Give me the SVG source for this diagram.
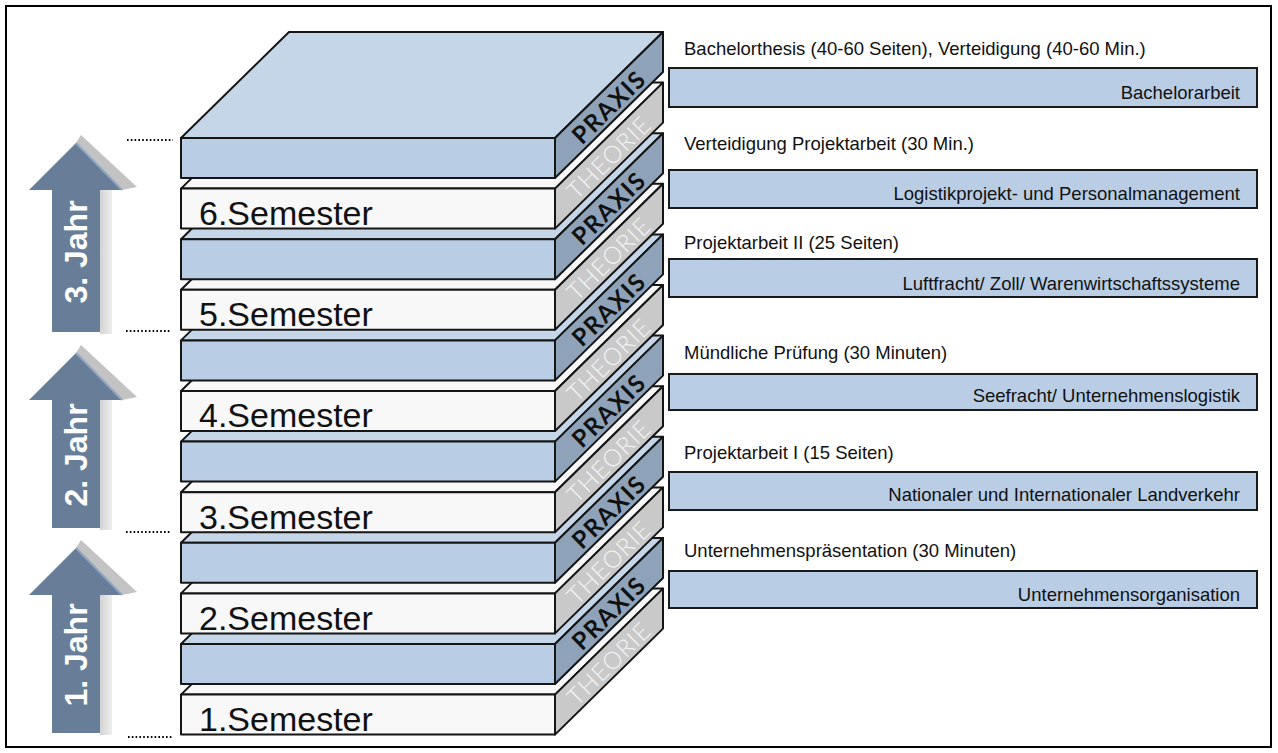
<svg xmlns="http://www.w3.org/2000/svg" xmlns:xlink="http://www.w3.org/1999/xlink" width="1278" height="753" viewBox="0 0 1278 753">
<style>
  .frame{fill:#fff;stroke:#000;stroke-width:2}
  .ln{stroke:#151515;stroke-width:2;stroke-linejoin:round}
  .topb{fill:#c6d6e9}
  .sideb{fill:#8ea3b9}
  .frontb{fill:#b9cde5}
  .topw{fill:#f8f8f8}
  .sidew{fill:#c9c9c9}
  .frontw{fill:#f8f8f8}
  .praxis{font-family:"Lato","Open Sans",sans-serif;font-weight:bold;font-size:24px;fill:#111;text-anchor:middle;letter-spacing:1.5px}
  .theorie{font-family:"Lato","Open Sans",sans-serif;font-weight:300;font-size:24px;fill:#f4f4f4;text-anchor:middle;letter-spacing:1px}
  .sem{font-family:"Liberation Sans",Arial,sans-serif;font-size:34px;fill:#111}
  .dots{stroke:#000;stroke-width:2;stroke-dasharray:1.6 2.2;fill:none}
  .arrow{fill:#687e98}
  .ahead{fill:#c3c3c3}
  .jahr{font-family:"Liberation Sans",Arial,sans-serif;font-weight:bold;font-size:32px;fill:#fff;text-anchor:middle}
  .title{font-family:"Liberation Sans",Arial,sans-serif;font-size:18.5px;fill:#111}
  .box{fill:#b9cde5;stroke:#1a1a1a;stroke-width:2}
  .boxt{font-family:"Liberation Sans",Arial,sans-serif;font-size:18.5px;fill:#111;text-anchor:end}
</style>
<defs>
  <linearGradient id="shaftShadow" x1="0" y1="0" x2="1" y2="0">
    <stop offset="0" stop-color="#d4d4d4"/>
    <stop offset="1" stop-color="#eeeeee"/>
  </linearGradient>
  <g id="tplBlue">
    <polygon class="topb ln" points="181,0 289,-106 663,-106 555,0"/>
    <polygon class="sideb ln" points="555,0 663,-106 663,-66 555,40"/>
    <rect class="frontb ln" x="181" y="0" width="374" height="40"/>
    <text class="praxis" transform="translate(609,-31) rotate(-44.5)" y="8.5">PRAXIS</text>
  </g>
  <g id="tplWhite">
    <polygon class="topw ln" points="181,0 289,-106 663,-106 555,0"/>
    <polygon class="sidew ln" points="555,0 663,-106 663,-66 555,40"/>
    <rect class="frontw ln" x="181" y="0" width="374" height="40"/>
    <text class="theorie" transform="translate(609,-31) rotate(-44.5)" y="8.5">THEORIE</text>
  </g>
</defs>

<rect class="frame" x="6" y="6" width="1265" height="741"/>

<!-- stack, bottom first -->
<g id="layer-1-semester"><use xlink:href="#tplWhite" transform="translate(0,694.6)"/><text class="sem" x="199" y="731">1.Semester</text></g>
<g id="layer-1-praxis"><use xlink:href="#tplBlue" transform="translate(0,644)"/></g>
<g id="layer-2-semester"><use xlink:href="#tplWhite" transform="translate(0,593.4)"/><text class="sem" x="199" y="629.8">2.Semester</text></g>
<g id="layer-2-praxis"><use xlink:href="#tplBlue" transform="translate(0,542.8)"/></g>
<g id="layer-3-semester"><use xlink:href="#tplWhite" transform="translate(0,492.2)"/><text class="sem" x="199" y="528.6">3.Semester</text></g>
<g id="layer-3-praxis"><use xlink:href="#tplBlue" transform="translate(0,441.6)"/></g>
<g id="layer-4-semester"><use xlink:href="#tplWhite" transform="translate(0,391)"/><text class="sem" x="199" y="427.4">4.Semester</text></g>
<g id="layer-4-praxis"><use xlink:href="#tplBlue" transform="translate(0,340.4)"/></g>
<g id="layer-5-semester"><use xlink:href="#tplWhite" transform="translate(0,289.8)"/><text class="sem" x="199" y="326.2">5.Semester</text></g>
<g id="layer-5-praxis"><use xlink:href="#tplBlue" transform="translate(0,239.2)"/></g>
<g id="layer-6-semester"><use xlink:href="#tplWhite" transform="translate(0,188.6)"/><text class="sem" x="199" y="225">6.Semester</text></g>
<g id="layer-6-praxis"><use xlink:href="#tplBlue" transform="translate(0,138)"/></g>

<!-- year arrows -->
<g id="arrow-3-jahr">
  <polygon class="ahead" points="76,143 81,135 137,187 122,190"/>
  <rect x="100" y="190" width="12" height="144" fill="url(#shaftShadow)"/>
  <polygon class="arrow" points="76,143 122,190 100,190 100,332 52,332 52,190 29,190"/>
  <line x1="76" y1="143" x2="122" y2="190" stroke="#8ea6c4" stroke-width="2"/>
  <text class="jahr" transform="translate(87,252) rotate(-90)">3. Jahr</text>
</g>
<g id="arrow-2-jahr">
  <polygon class="ahead" points="76,353 81,345 137,397 122,400"/>
  <rect x="100" y="400" width="12" height="130" fill="url(#shaftShadow)"/>
  <polygon class="arrow" points="76,353 122,400 100,400 100,528 52,528 52,400 29,400"/>
  <line x1="76" y1="353" x2="122" y2="400" stroke="#8ea6c4" stroke-width="2"/>
  <text class="jahr" transform="translate(87,455) rotate(-90)">2. Jahr</text>
</g>
<g id="arrow-1-jahr">
  <polygon class="ahead" points="76,548 81,540 137,592 122,595"/>
  <rect x="100" y="595" width="12" height="140" fill="url(#shaftShadow)"/>
  <polygon class="arrow" points="76,548 122,595 100,595 100,733 52,733 52,595 29,595"/>
  <line x1="76" y1="548" x2="122" y2="595" stroke="#8ea6c4" stroke-width="2"/>
  <text class="jahr" transform="translate(87,655) rotate(-90)">1. Jahr</text>
</g>

<!-- dotted year markers -->
<g id="connectors">
  <line class="dots" x1="127" y1="140" x2="173" y2="140"/>
  <line class="dots" x1="126" y1="331" x2="171" y2="331"/>
  <line class="dots" x1="126" y1="532" x2="171" y2="532"/>
  <line class="dots" x1="128" y1="737" x2="173" y2="737"/>
</g>

<!-- right side modules -->
<g id="mod-bachelor">
  <text class="title" x="684" y="55">Bachelorthesis (40-60 Seiten), Verteidigung (40-60 Min.)</text>
  <rect class="box" x="669" y="68" width="588" height="39"/>
  <text class="boxt" x="1240" y="99">Bachelorarbeit</text>
</g>
<g id="mod-logistikprojekt">
  <text class="title" x="684" y="150">Verteidigung Projektarbeit (30 Min.)</text>
  <rect class="box" x="669" y="170" width="588" height="38"/>
  <text class="boxt" x="1240" y="200">Logistikprojekt- und Personalmanagement</text>
</g>
<g id="mod-luftfracht">
  <text class="title" x="684" y="249">Projektarbeit II (25 Seiten)</text>
  <rect class="box" x="669" y="259" width="588" height="38"/>
  <text class="boxt" x="1240" y="290">Luftfracht/ Zoll/ Warenwirtschaftssysteme</text>
</g>
<g id="mod-seefracht">
  <text class="title" x="684" y="359">Mündliche Prüfung (30 Minuten)</text>
  <rect class="box" x="669" y="374" width="588" height="36"/>
  <text class="boxt" x="1240" y="402">Seefracht/ Unternehmenslogistik</text>
</g>
<g id="mod-landverkehr">
  <text class="title" x="684" y="459">Projektarbeit I (15 Seiten)</text>
  <rect class="box" x="669" y="472" width="588" height="38"/>
  <text class="boxt" x="1240" y="501">Nationaler und Internationaler Landverkehr</text>
</g>
<g id="mod-organisation">
  <text class="title" x="684" y="557">Unternehmenspräsentation (30 Minuten)</text>
  <rect class="box" x="669" y="571" width="588" height="37"/>
  <text class="boxt" x="1240" y="601">Unternehmensorganisation</text>
</g>
</svg>
